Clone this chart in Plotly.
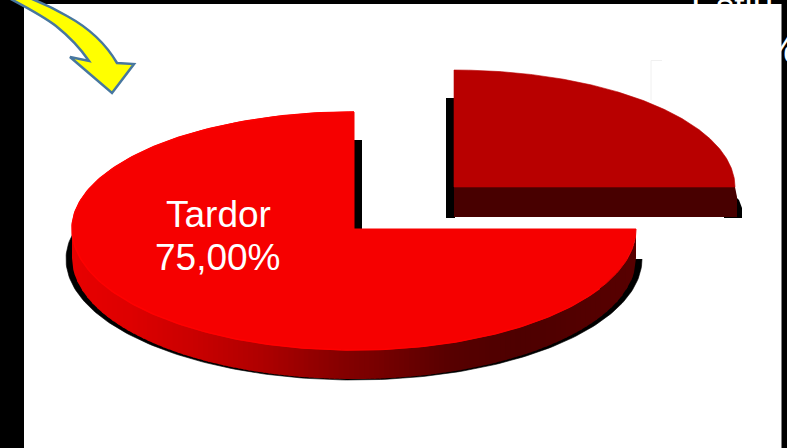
import numpy as np
import plotly.graph_objects as go

# Data
labels = ["Tardor", "Estiu"]
shares = [75.0, 25.0]

W, H = 787, 448
FONT = "Liberation Sans, Arial, sans-serif"

def fmt(v):
    return f"{v:.2f}".replace(".", ",") + "%"

# Slice angles come from the shares; Estiu occupies the upper-right quarter
sweep = [s / sum(shares) * 360 for s in shares]
tardor_range = (90.0, 90.0 + sweep[0])
estiu_range = (90.0 - sweep[1], 90.0)

def arc(cx, cy, rx, ry_top, ry_bot, a0, a1, n=240):
    t = np.radians(np.linspace(a0, a1, n))
    s = np.sin(t)
    ry = np.where(s >= 0, ry_top, ry_bot)
    return cx + rx * np.cos(t), cy - ry * s

def poly(xs, ys, color, line=0.6):
    return go.Scatter(x=list(xs), y=list(ys), mode="lines", fill="toself", fillcolor=color,
                      line=dict(color=color, width=line), hoverinfo="skip", showlegend=False)

fig = go.Figure()

# ---- main slice (Tardor)
cx, cy, rx, ryt, ryb, depth = 354, 229, 282, 117, 121, 29
sx, sy = arc(cx, 259, 288, 117, 121, *tardor_range)
sx = np.concatenate([[cx], sx])
sy = np.concatenate([[259], sy])
fig.add_trace(poly(sx, sy, "#000000"))
fig.add_trace(poly([cx, cx + 8, cx + 8, cx], [140, 140, 232, 232], "#000000", 0))

# graded rim: painted left to right, each band running under the next
edges = np.linspace(cx - rx, cx + rx, 113)
g_x = [72, 130, 200, 260, 320, 354, 373, 450, 520, 636]
g_r = [232, 222, 200, 176, 144, 128, 122, 88, 78, 88]
for i in range(len(edges) - 1):
    x0, x1 = edges[i], edges[i + 1]
    xs = np.linspace(x0, min(x1 + 1.5, cx + rx), 6)
    yb = cy + ryb * np.sqrt(np.clip(1 - ((xs - cx) / rx) ** 2, 0, 1))
    r = int(np.interp((x0 + x1) / 2, g_x, g_r))
    fig.add_trace(poly(np.concatenate([xs, xs[::-1]]), np.concatenate([yb, (yb + depth)[::-1]]), f"rgb({r},0,0)", 0))

tx, ty = arc(cx, cy, rx, ryt, ryb, *tardor_range)
fig.add_trace(poly(np.concatenate([[cx], tx, [cx]]), np.concatenate([[cy], ty, [cy]]), "#f60000", 1))
fig.add_trace(go.Scatter(x=tx[tx < 600], y=ty[tx < 600], mode="lines", line=dict(color="#ff0000", width=1.5),
                         hoverinfo="skip", showlegend=False))

# ---- exploded slice (Estiu)
ex, ey, erx, ery, ed = 454, 187, 281, 117, 30
fig.add_trace(poly([ex - 8, ex + 1, ex + 1, ex - 8], [98, 98, ey + ed + 1, ey + ed + 1], "#000000", 0))
fig.add_trace(poly([ex + 270, ex + 282, ex + 285, ex + 288, ex + 288, ex + 270],
                   [ey + 10, ey + 10, ey + 13, ey + 21, ey + ed + 1, ey + ed + 1], "#000000", 0))
fig.add_trace(poly([ex, ex + erx, ex + erx + 2, ex + erx + 2, ex], [ey, ey, ey + 10, ey + ed, ey + ed], "#480000", 0))
ux, uy = arc(ex, ey, erx, ery, ery, *estiu_range)
fig.add_trace(poly(np.concatenate([[ex], ux, [ex]]), np.concatenate([[ey], uy, [ey]]), "#b80000", 0.6))

# ---- layout
white_rect = dict(type="rect", xref="x", yref="y", x0=24, x1=781.5, y0=4, y1=H,
                  fillcolor="#ffffff", line_width=0, layer="below")
faint = dict(type="path", xref="x", yref="y", path="M 662 60.5 L 651 60.5 L 651 100",
             line=dict(color="#f0f0f0", width=1), layer="below")
arrow = dict(type="path", xref="x", yref="y",
             path="M 7 -3 Q 43 16 56 26 Q 76 42 89 61 L 70 57 L 112 93 L 134 64 L 117 63 "
                  "Q 100 34 67 16 Q 48 5 27 -3 Z",
             fillcolor="#ffff00", line=dict(color="#47779f", width=2.5), layer="above")

def label(text, x, y):
    return dict(text=text, x=x, y=y, xref="x", yref="y", showarrow=False, xanchor="center", yanchor="middle",
                font=dict(family=FONT, size=37, color="#ffffff"), borderpad=0, borderwidth=0)

annotations = [
    label(labels[0], 218, 214),
    label(fmt(shares[0]), 217.5, 257),
    label(labels[1], 732, 6),
    label(fmt(shares[1]), 735, 49),
]

fig.update_layout(
    width=W, height=H, margin=dict(l=0, r=0, t=0, b=0, pad=0),
    paper_bgcolor="#000000", plot_bgcolor="rgba(0,0,0,0)",
    xaxis=dict(range=[0, W], visible=False, fixedrange=True, domain=[0, 1]),
    yaxis=dict(range=[H, 0], visible=False, fixedrange=True, domain=[0, 1]),
    shapes=[white_rect, faint, arrow], annotations=annotations, showlegend=False,
)
fig.write_html("out.html", config=dict(displayModeBar=False),
               post_script="document.body.style.margin='0';document.body.style.background='#000';document.body.style.overflow='hidden';")
